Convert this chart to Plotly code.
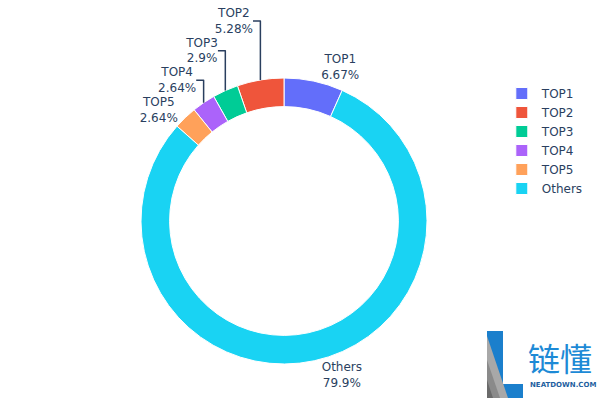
import plotly.graph_objects as go

labels = ["TOP1", "TOP2", "TOP3", "TOP4", "TOP5", "Others"]
values = [6.67, 5.28, 2.90, 2.64, 2.64, 79.87]

W, H = 600, 400
ML, MR, MT, MB = 64, 96, 78, 36
PW, PH = W - ML - MR, H - MT - MB


def px(x):
    return (x - ML) / PW


def py(y):
    return (H - MB - y) / PH


fig = go.Figure(go.Pie(
    labels=labels,
    values=values,
    hole=0.8,
    sort=False,
    direction="counterclockwise",
    textinfo="label+percent",
    textposition="outside",
    marker=dict(line=dict(color="white", width=1)),
))

# logo (decoration)
blue = "#1b7fcc"
fig.add_shape(type="path", xref="paper", yref="paper", layer="above",
              path=(f"M {px(487)} {py(331)} L {px(503)} {py(331)} L {px(503)} {py(384)} "
                    f"L {px(523)} {py(384)} L {px(523)} {py(398)} L {px(487)} {py(398)} Z"),
              fillcolor=blue, line=dict(width=0))
fig.add_shape(type="path", xref="paper", yref="paper", layer="above",
              path=f"M {px(487)} {py(336)} L {px(508)} {py(398)} L {px(487)} {py(398)} Z",
              fillcolor="#a8a8a8", line=dict(width=0))
fig.add_shape(type="path", xref="paper", yref="paper", layer="above",
              path=f"M {px(487)} {py(360)} L {px(500)} {py(398)} L {px(487)} {py(398)} Z",
              fillcolor="#8a8a8a", line=dict(width=0))
fig.add_shape(type="path", xref="paper", yref="paper", layer="above",
              path=f"M {px(487)} {py(380)} L {px(493)} {py(398)} L {px(487)} {py(398)} Z",
              fillcolor="#6a6a6a", line=dict(width=0))
fig.add_annotation(xref="paper", yref="paper", x=px(560), y=py(357), xanchor="center", yanchor="middle",
                   text="链懂", showarrow=False,
                   font=dict(family="Noto Sans CJK SC", size=32, color="#1d8ad6"))
fig.add_annotation(xref="paper", yref="paper", x=px(563), y=py(385), xanchor="center", yanchor="middle",
                   text="<b>NEATDOWN.COM</b>", showarrow=False,
                   font=dict(family="DejaVu Sans", size=7, color="#1f5f9f"))

fig.update_layout(
    width=W, height=H,
    template="plotly",
    paper_bgcolor="white",
    margin=dict(l=ML, r=MR, t=MT, b=MB, autoexpand=False),
    font=dict(family="DejaVu Sans, Open Sans, sans-serif", size=12, color="#2a3f5f"),
    legend=dict(x=0.995, xanchor="left", y=py(79), yanchor="top"),
)

fig.write_html("out.html",
               config={"displayModeBar": False},
               post_script="document.body.style.margin='0';document.body.style.overflow='hidden';")
